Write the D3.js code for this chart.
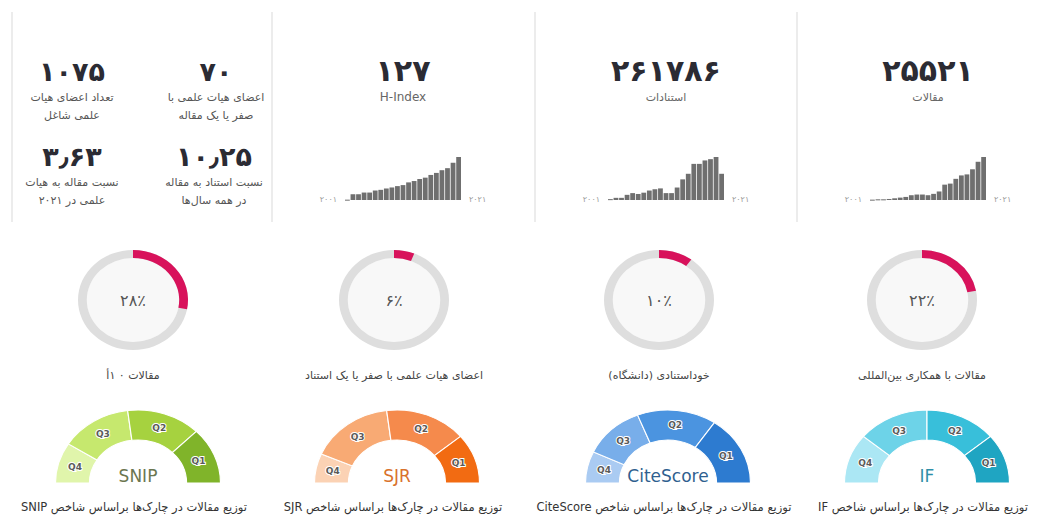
<!DOCTYPE html>
<html>
<head>
<meta charset="utf-8">
<script src="https://cdn.jsdelivr.net/npm/d3@7"></script>
<style>
  body { margin: 0; background: #fff; }
  svg { display: block; }
  text { font-family: "DejaVu Sans", sans-serif; }
</style>
</head>
<body>
<div id="chart"></div>
<script>
/* CONSTANTS AND GLOBALS */
const width = 1054, height = 519;

// yearly series 2001 → 2021
const years = [2001, 2002, 2003, 2004, 2005, 2006, 2007, 2008, 2009, 2010, 2011,
               2012, 2013, 2014, 2015, 2016, 2017, 2018, 2019, 2020, 2021];
const hIndexByYear = [1, 17, 17, 22, 22, 28, 30, 34, 37, 41, 44, 52, 56, 62, 66, 74, 80, 88, 94, 110, 127];
const citationsByYear = [630, 1580, 1580, 3780, 5040, 4410, 5360, 6930, 7880, 8500, 5040,
                         5040, 9140, 15120, 19200, 26460, 26460, 28980, 29920, 31500, 19200];
const articlesByYear = [34, 67, 67, 100, 167, 234, 301, 469, 536, 536, 469,
                        603, 837, 1507, 1608, 2077, 2412, 2512, 3015, 3752, 4221];

// headline cards (left → right on screen)
const headlineValues = [127, 261786, 25521];
const headlineLabels = ["H-Index", "استنادات", "مقالات"];

// faculty card: top-left, top-right, bottom-left, bottom-right
const facultyValues = [1075, 70, 3.63, 10.25];
const facultyLabels = [
  ["تعداد اعضای هیات", "علمی شاغل"],
  ["اعضای هیات علمی با", "صفر یا یک مقاله"],
  ["نسبت مقاله به هیات", "علمی در ۲۰۲۱"],
  ["نسبت استناد به مقاله", "در همه سال‌ها"]
];

// donut row (left → right)
const donutPercents = [28, 6, 10, 22];
const donutLabels = ["مقالات ۰ ۱أ", "اعضای هیات علمی با صفر یا یک استناد",
                     "خوداستنادی (دانشگاه)", "مقالات با همکاری بین‌المللی"];

// quartile gauges (left → right), shares in order Q1..Q4
const quartiles = ["Q1", "Q2", "Q3", "Q4"];
const gaugeNames = ["SNIP", "SJR", "CiteScore", "IF"];
const snipShares = [25, 29, 28, 18];
const sjrShares = [22, 32, 33, 13];
const citeScoreShares = [31, 31, 24, 14];
const ifShares = [22, 28, 28, 22];
const gaugeCaption = "توزیع مقالات در چارک‌ها براساس شاخص ";

const faDigits = "۰۱۲۳۴۵۶۷۸۹";
const toFa = v => String(v).replace(/\d/g, d => faDigits[+d]).replace(".", "٫");

const svg = d3.select("#chart").append("svg")
  .attr("width", width)
  .attr("height", height);

// + TOP ROW CARDS
const panelX = [12, 272, 535, 797];
const panelW = 262;

svg.selectAll("line.sep")
  .data(panelX)
  .join("line")
  .attr("class", "sep")
  .attr("x1", d => d).attr("x2", d => d)
  .attr("y1", 12).attr("y2", 222)
  .attr("stroke", "#e6e6e6")
  .attr("stroke-width", 1.5);

// faculty card (2 x 2)
const cellX = [72, 216, 72, 214];
const cellY = [81, 81, 166, 166];
const faculty = svg.append("g");
facultyValues.forEach((v, i) => {
  faculty.append("text")
    .attr("x", cellX[i]).attr("y", cellY[i])
    .attr("text-anchor", "middle")
    .attr("font-size", 27).attr("font-weight", "bold")
    .attr("fill", "#2b2b33")
    .text(toFa(v));
  facultyLabels[i].forEach((line, j) => {
    faculty.append("text")
      .attr("x", cellX[i]).attr("y", cellY[i] + 20 + j * 18)
      .attr("text-anchor", "middle")
      .attr("direction", "rtl")
      .attr("font-size", 11)
      .attr("fill", "#555")
      .text(line);
  });
});

// headline + sparkline cards
const sparkSeries = [hIndexByYear, citationsByYear, articlesByYear];
headlineValues.forEach((v, i) => {
  const cx = panelX[i + 1] + panelW / 2;
  const g = svg.append("g");

  g.append("text")
    .attr("x", cx).attr("y", 81)
    .attr("text-anchor", "middle")
    .attr("font-size", 30).attr("font-weight", "bold")
    .attr("fill", "#2b2b33")
    .text(toFa(v));

  g.append("text")
    .attr("x", cx).attr("y", 101)
    .attr("text-anchor", "middle")
    .attr("direction", i === 0 ? "ltr" : "rtl")
    .attr("font-family", i === 0 ? "Open Sans" : null)
    .attr("font-size", i === 0 ? 12 : 11)
    .attr("fill", "#666")
    .text(headlineLabels[i]);

  const series = sparkSeries[i];
  const xScale = d3.scaleBand()
    .domain(years)
    .range([cx - 58, cx + 58])
    .paddingInner(0.14);
  const yScale = d3.scaleLinear()
    .domain([0, d3.max(series)])
    .range([200, 157]);

  g.selectAll("rect")
    .data(series.map((d, k) => ({year: years[k], value: d})))
    .join("rect")
    .attr("x", d => xScale(d.year))
    .attr("width", xScale.bandwidth())
    .attr("y", d => yScale(d.value))
    .attr("height", d => Math.max(1, 200 - yScale(d.value)))
    .attr("fill", "#6f6f6f");

  g.append("text")
    .attr("x", cx - 66).attr("y", 202)
    .attr("text-anchor", "end")
    .attr("font-size", 8).attr("fill", "#999")
    .text(toFa(years[0]));
  g.append("text")
    .attr("x", cx + 66).attr("y", 202)
    .attr("text-anchor", "start")
    .attr("font-size", 8).attr("fill", "#999")
    .text(toFa(years[years.length - 1]));
});

// + DONUT ROW
const donutCx = [133, 394, 659, 922];
const ringArc = d3.arc().innerRadius(42).outerRadius(50);
donutPercents.forEach((p, i) => {
  const g = svg.append("g")
    .attr("transform", `translate(${donutCx[i]},300) scale(1.1,1)`);
  g.append("circle").attr("r", 42).attr("fill", "#f8f8f8");
  g.append("path")
    .attr("d", ringArc({startAngle: 0, endAngle: 2 * Math.PI}))
    .attr("fill", "#dedede");
  g.append("path")
    .attr("d", ringArc({startAngle: 0, endAngle: p / 100 * 2 * Math.PI}))
    .attr("fill", "#d8125b");

  svg.append("text")
    .attr("x", donutCx[i]).attr("y", 306)
    .attr("text-anchor", "middle")
    .attr("font-size", 16).attr("fill", "#555")
    .text(toFa(p) + "٪");

  svg.append("text")
    .attr("x", donutCx[i]).attr("y", 379)
    .attr("text-anchor", "middle")
    .attr("direction", "rtl")
    .attr("font-size", 11).attr("fill", "#444")
    .text(donutLabels[i]);
});

// + QUARTILE GAUGES
const gaugeCx = [138, 397, 668, 927];
const gaugeShares = [snipShares, sjrShares, citeScoreShares, ifShares];
const gaugeColors = [
  ["#80b42a", "#a6d23f", "#c6e86e", "#e0f5ab"],
  ["#f26b12", "#f58a4c", "#f8aa74", "#fbd2b4"],
  ["#2d7bd0", "#4b94e0", "#78aeea", "#aacbf2"],
  ["#1fa5c2", "#38bfda", "#6dd3e8", "#abe7f4"]
];
const gaugeText = ["#6b7650", "#d9722c", "#2f5f8f", "#2f8fa8"];
const gArc = d3.arc().innerRadius(43).outerRadius(73);

gaugeNames.forEach((name, i) => {
  // draw Q4 on the left through Q1 on the right
  const items = quartiles.map((q, k) => ({q, value: gaugeShares[i][k], color: gaugeColors[i][k]})).reverse();
  const pie = d3.pie().sort(null).value(d => d.value)
    .startAngle(-Math.PI / 2).endAngle(Math.PI / 2);
  const arcs = pie(items);

  const g = svg.append("g")
    .attr("transform", `translate(${gaugeCx[i]},483) scale(1.13,1)`);
  g.selectAll("path")
    .data(arcs)
    .join("path")
    .attr("d", gArc)
    .attr("fill", d => d.data.color)
    .attr("stroke", "#fff")
    .attr("stroke-width", 1);

  svg.selectAll(null)
    .data(arcs)
    .join("text")
    .attr("x", d => gaugeCx[i] + gArc.centroid(d)[0] * 1.13)
    .attr("y", d => 483 + gArc.centroid(d)[1] + 3)
    .attr("text-anchor", "middle")
    .attr("font-family", "Open Sans")
    .attr("font-size", 9).attr("font-weight", "bold")
    .attr("fill", "#5a5a5a")
    .attr("stroke", "#fff").attr("stroke-width", 2)
    .attr("paint-order", "stroke")
    .text(d => d.data.q);

  svg.append("text")
    .attr("x", gaugeCx[i]).attr("y", 482)
    .attr("text-anchor", "middle")
    .attr("font-family", "Open Sans")
    .attr("font-size", 17)
    .attr("fill", gaugeText[i])
    .text(name);

  svg.append("text")
    .attr("x", gaugeCx[i] - 4).attr("y", 511)
    .attr("text-anchor", "middle")
    .attr("direction", "rtl")
    .attr("font-size", 11.5).attr("fill", "#333")
    .text(gaugeCaption + name);
});
</script>
</body>
</html>
